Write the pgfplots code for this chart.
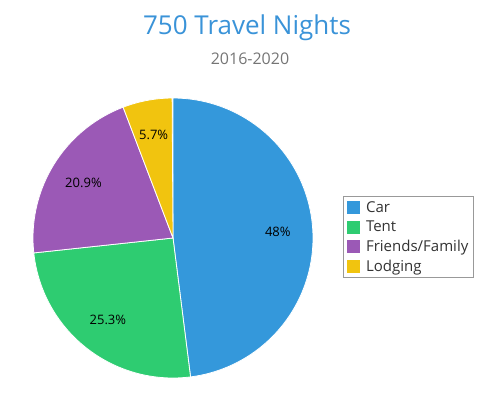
\documentclass[border=0pt]{standalone}
\usepackage{pgfplots}
\pgfplotsset{compat=1.18}
\usepackage{fontspec}
\setmainfont{Open Sans}
\definecolor{carc}{HTML}{3498DB}
\definecolor{tentc}{HTML}{2ECC71}
\definecolor{friendc}{HTML}{9B59B6}
\definecolor{lodgec}{HTML}{F1C40F}
\definecolor{titlec}{HTML}{3A93D8}
\definecolor{subc}{HTML}{757575}
\definecolor{legtext}{HTML}{333333}
\begin{document}
\begin{tikzpicture}[x=1pt,y=1pt]
\path[use as bounding box] (0,0) rectangle (500,400);
\node[text=titlec,font=\fontsize{26}{30}\selectfont] at (247,372) {750 Travel Nights};
\node[text=subc,font=\fontsize{16}{18}\selectfont] at (250,341) {2016-2020};
\begin{axis}[
  at={(33pt,22pt)}, anchor=south west,
  scale only axis, width=280pt, height=280pt,
  xmin=-1, xmax=1, ymin=-1, ymax=1,
  hide axis, clip=false,
  area legend,
  legend image code/.code={\draw[#1,line width=0.6pt] (0pt,-7pt) rectangle (14pt,7pt);\path (17pt,0pt);},
  legend style={at={(rel axis cs:1.107,0.65)}, anchor=north west,
    draw=black!40, line width=0.8pt, font=\fontsize{15}{17}\selectfont, text=legtext,
    inner xsep=3pt, inner ysep=3pt, row sep=3pt,
    cells={anchor=west}},
]
% percentages: Car 48, Tent 25.3, Friends/Family 20.9, Lodging 5.7 (clockwise from top)
\addplot[fill=carc, draw=white, line width=0.8pt, domain={90-3.6*48}:90, samples=150, variable=\t]
  ({cos(t)},{sin(t)}) -- (axis cs:0,0) -- cycle;
\addlegendentry{Car}
\addplot[fill=tentc, draw=white, line width=0.8pt, domain={90-3.6*73.3}:{90-3.6*48}, samples=100, variable=\t]
  ({cos(t)},{sin(t)}) -- (axis cs:0,0) -- cycle;
\addlegendentry{Tent}
\addplot[fill=friendc, draw=white, line width=0.8pt, domain={90-3.6*94.2}:{90-3.6*73.3}, samples=90, variable=\t]
  ({cos(t)},{sin(t)}) -- (axis cs:0,0) -- cycle;
\addlegendentry{Friends/Family}
\addplot[fill=lodgec, draw=white, line width=0.8pt, domain={90-3.6*99.9}:{90-3.6*94.2}, samples=30, variable=\t]
  ({cos(t)},{sin(t)}) -- (axis cs:0,0) -- cycle;
\addlegendentry{Lodging}
\node[font=\fontsize{13}{15}\selectfont] at (axis cs:{0.75*cos(90-3.6*24)},{0.75*sin(90-3.6*24)}) {48\%};
\node[font=\fontsize{13}{15}\selectfont] at (axis cs:{0.75*cos(90-3.6*60.65)},{0.75*sin(90-3.6*60.65)}) {25.3\%};
\node[font=\fontsize{13}{15}\selectfont] at (axis cs:{0.75*cos(90-3.6*83.75)},{0.75*sin(90-3.6*83.75)}) {20.9\%};
\node[font=\fontsize{13}{15}\selectfont] at (axis cs:{0.75*cos(90-3.6*97.05)},{0.75*sin(90-3.6*97.05)}) {5.7\%};
\end{axis}
\end{tikzpicture}
\end{document}
